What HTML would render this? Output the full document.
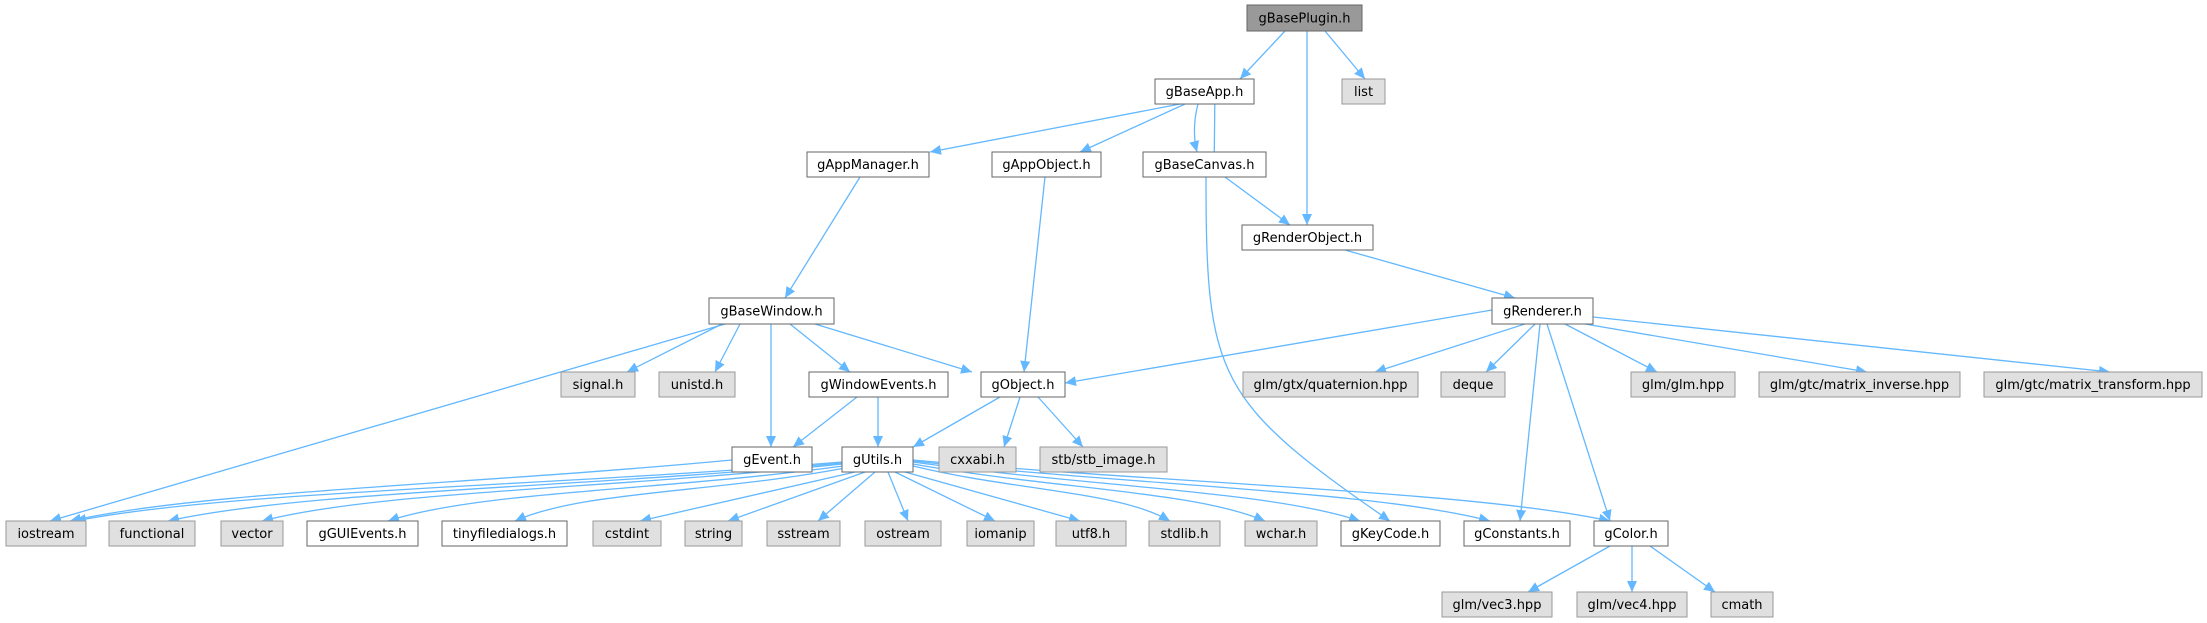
<!DOCTYPE html>
<html><head><meta charset="utf-8"><style>
html,body{margin:0;padding:0;background:#fff;width:2207px;height:623px;overflow:hidden}
svg text{font-family:"DejaVu Sans","Liberation Sans",sans-serif;font-size:13px;fill:#000}
</style></head><body>
<svg id="s" width="2207" height="623" xmlns="http://www.w3.org/2000/svg">
<defs><marker id="a" markerUnits="userSpaceOnUse" markerWidth="12" markerHeight="10" refX="11" refY="5" orient="auto"><path d="M0,0 L11,5 L0,10 z" fill="#63b8ff"/></marker></defs>
<g id="edges" fill="none" stroke="#63b8ff" stroke-width="1.3"></g>
<g id="nodes">
<rect x="1247" y="5" width="115" height="26" fill="#999" stroke="#666"/><text x="1304.5" y="22.5" text-anchor="middle">gBasePlugin.h</text>
<rect x="1155" y="79" width="99" height="25" fill="#fff" stroke="#666"/><text x="1204.5" y="96" text-anchor="middle">gBaseApp.h</text>
<rect x="1342" y="79" width="43" height="25" fill="#e0e0e0" stroke="#999"/><text x="1363.5" y="96" text-anchor="middle">list</text>
<rect x="807" y="152" width="122" height="25" fill="#fff" stroke="#666"/><text x="868" y="169" text-anchor="middle">gAppManager.h</text>
<rect x="992" y="152" width="109" height="25" fill="#fff" stroke="#666"/><text x="1046.5" y="169" text-anchor="middle">gAppObject.h</text>
<rect x="1143" y="152" width="123" height="25" fill="#fff" stroke="#666"/><text x="1204.5" y="169" text-anchor="middle">gBaseCanvas.h</text>
<rect x="1242" y="225" width="131" height="25" fill="#fff" stroke="#666"/><text x="1307.5" y="242" text-anchor="middle">gRenderObject.h</text>
<rect x="709" y="298" width="125" height="26" fill="#fff" stroke="#666"/><text x="771.5" y="315.5" text-anchor="middle">gBaseWindow.h</text>
<rect x="1492" y="298" width="101" height="26" fill="#fff" stroke="#666"/><text x="1542.5" y="315.5" text-anchor="middle">gRenderer.h</text>
<rect x="561" y="372" width="74" height="25" fill="#e0e0e0" stroke="#999"/><text x="598" y="389" text-anchor="middle">signal.h</text>
<rect x="659" y="372" width="76" height="25" fill="#e0e0e0" stroke="#999"/><text x="697" y="389" text-anchor="middle">unistd.h</text>
<rect x="809" y="372" width="139" height="25" fill="#fff" stroke="#666"/><text x="878.5" y="389" text-anchor="middle">gWindowEvents.h</text>
<rect x="981" y="372" width="84" height="25" fill="#fff" stroke="#666"/><text x="1023" y="389" text-anchor="middle">gObject.h</text>
<rect x="1243" y="372" width="175" height="25" fill="#e0e0e0" stroke="#999"/><text x="1330.5" y="389" text-anchor="middle">glm/gtx/quaternion.hpp</text>
<rect x="1441" y="372" width="64" height="25" fill="#e0e0e0" stroke="#999"/><text x="1473" y="389" text-anchor="middle">deque</text>
<rect x="1631" y="372" width="104" height="25" fill="#e0e0e0" stroke="#999"/><text x="1683" y="389" text-anchor="middle">glm/glm.hpp</text>
<rect x="1759" y="372" width="201" height="25" fill="#e0e0e0" stroke="#999"/><text x="1859.5" y="389" text-anchor="middle">glm/gtc/matrix_inverse.hpp</text>
<rect x="1984" y="372" width="218" height="25" fill="#e0e0e0" stroke="#999"/><text x="2093" y="389" text-anchor="middle">glm/gtc/matrix_transform.hpp</text>
<rect x="732" y="447" width="80" height="25" fill="#fff" stroke="#666"/><text x="772" y="464" text-anchor="middle">gEvent.h</text>
<rect x="842" y="447" width="71" height="25" fill="#fff" stroke="#666"/><text x="877.5" y="464" text-anchor="middle">gUtils.h</text>
<rect x="939" y="447" width="77" height="25" fill="#e0e0e0" stroke="#999"/><text x="977.5" y="464" text-anchor="middle">cxxabi.h</text>
<rect x="1040" y="447" width="127" height="25" fill="#e0e0e0" stroke="#999"/><text x="1103.5" y="464" text-anchor="middle">stb/stb_image.h</text>
<rect x="6" y="521" width="80" height="25" fill="#e0e0e0" stroke="#999"/><text x="46" y="538" text-anchor="middle">iostream</text>
<rect x="109" y="521" width="86" height="25" fill="#e0e0e0" stroke="#999"/><text x="152" y="538" text-anchor="middle">functional</text>
<rect x="221" y="521" width="62" height="25" fill="#e0e0e0" stroke="#999"/><text x="252" y="538" text-anchor="middle">vector</text>
<rect x="307" y="521" width="111" height="25" fill="#fff" stroke="#666"/><text x="362.5" y="538" text-anchor="middle">gGUIEvents.h</text>
<rect x="442" y="521" width="125" height="25" fill="#fff" stroke="#666"/><text x="504.5" y="538" text-anchor="middle">tinyfiledialogs.h</text>
<rect x="593" y="521" width="68" height="25" fill="#e0e0e0" stroke="#999"/><text x="627" y="538" text-anchor="middle">cstdint</text>
<rect x="685" y="521" width="57" height="25" fill="#e0e0e0" stroke="#999"/><text x="713.5" y="538" text-anchor="middle">string</text>
<rect x="767" y="521" width="73" height="25" fill="#e0e0e0" stroke="#999"/><text x="803.5" y="538" text-anchor="middle">sstream</text>
<rect x="865" y="521" width="76" height="25" fill="#e0e0e0" stroke="#999"/><text x="903" y="538" text-anchor="middle">ostream</text>
<rect x="967" y="521" width="67" height="25" fill="#e0e0e0" stroke="#999"/><text x="1000.5" y="538" text-anchor="middle">iomanip</text>
<rect x="1056" y="521" width="70" height="25" fill="#e0e0e0" stroke="#999"/><text x="1091" y="538" text-anchor="middle">utf8.h</text>
<rect x="1149" y="521" width="71" height="25" fill="#e0e0e0" stroke="#999"/><text x="1184.5" y="538" text-anchor="middle">stdlib.h</text>
<rect x="1245" y="521" width="72" height="25" fill="#e0e0e0" stroke="#999"/><text x="1281" y="538" text-anchor="middle">wchar.h</text>
<rect x="1341" y="521" width="99" height="25" fill="#fff" stroke="#666"/><text x="1390.5" y="538" text-anchor="middle">gKeyCode.h</text>
<rect x="1464" y="521" width="106" height="25" fill="#fff" stroke="#666"/><text x="1517" y="538" text-anchor="middle">gConstants.h</text>
<rect x="1594" y="521" width="74" height="25" fill="#fff" stroke="#666"/><text x="1631" y="538" text-anchor="middle">gColor.h</text>
<rect x="1442" y="592" width="110" height="25" fill="#e0e0e0" stroke="#999"/><text x="1497" y="609" text-anchor="middle">glm/vec3.hpp</text>
<rect x="1577" y="592" width="110" height="25" fill="#e0e0e0" stroke="#999"/><text x="1632" y="609" text-anchor="middle">glm/vec4.hpp</text>
<rect x="1711" y="592" width="62" height="25" fill="#e0e0e0" stroke="#999"/><text x="1742" y="609" text-anchor="middle">cmath</text>
</g>
</svg>
<script>
var E=[
[1285,31,1240,79],[1325,31,1365,79],[1307,31,1307,225,0],
[1180,104,930,152],[1185,104,1080,152],[1198,104,1197,152,-3],[1214,152,1215,104,3],
[1225,177,1290,225],[1206,177,1390,521,1],
[860,177,785,298],[1045,177,1024,372],
[1345,250,1515,298],
[725,324,50,521],[722,324,627,372],[740,324,715,372],[771,324,771,447],[790,324,850,372],[815,324,972,372],
[1492,310,1065,383],[1525,324,1375,372],[1535,324,1486,372],[1565,324,1657,372],[1585,324,1867,372],[1593,317,2110,372],
[1540,324,1520,521],[1547,324,1610,521],
[857,397,793,447],[878,397,878,447],
[1000,397,913,447],[1020,397,1004,447],[1038,397,1083,447],
[732,460,70,521,2],
[842,462,75,521,2],[842,463,168,521,2],[842,464,262,521,2],[843,466,388,521,2],[845,468,515,521,2],[855,472,640,521],[865,472,728,521],[875,472,818,521],[888,472,908,521],[895,472,995,521],[905,472,1080,521],[913,466,1170,521,3],[913,464,1265,521,3],[913,462,1360,521,3],[913,461,1490,521,3],[913,460,1610,521,3],
[1610,546,1528,592],[1632,546,1632,592],[1650,546,1715,592]
];
var g=document.getElementById('edges'),d;
E.forEach(function(e){var sx=e[0],sy=e[1],ex=e[2],ey=e[3],t=e[4];
if(t===2){d='M'+sx+','+sy+' C'+(sx-(sx-ex)*0.4)+','+(sy+25)+' '+(ex+(sx-ex)*0.2)+','+(ey-30)+' '+ex+','+ey;}
else if(t===3){d='M'+sx+','+sy+' C'+(sx+(ex-sx)*0.4)+','+(sy+25)+' '+(ex-(ex-sx)*0.2)+','+(ey-30)+' '+ex+','+ey;}
else if(t===1){d='M'+sx+','+sy+' C'+sx+','+(sy+200)+' '+(sx+10)+','+(ey-120)+' '+ex+','+ey;}
else if(t===-3||t===3&&false){d='M'+sx+','+sy+' C'+(sx-4)+','+(sy+15)+' '+(ex-4)+','+(ey-15)+' '+ex+','+ey;}
else{d='M'+sx+','+sy+' L'+ex+','+ey;}
var p=document.createElementNS('http://www.w3.org/2000/svg','path');p.setAttribute('d',d);p.setAttribute('marker-end','url(#a)');g.appendChild(p);});
</script>
</body></html>
